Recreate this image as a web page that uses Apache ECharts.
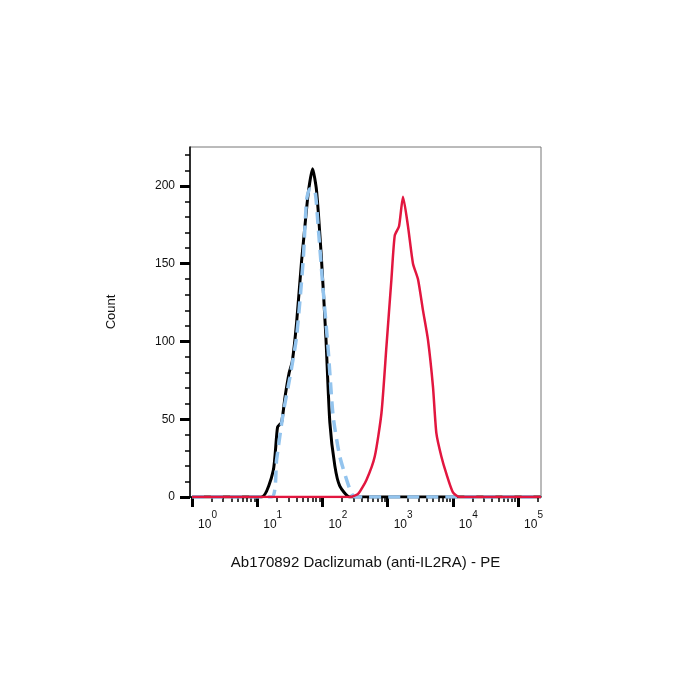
<!DOCTYPE html>
<html>
<head>
<meta charset="utf-8">
<script src="https://cdn.jsdelivr.net/npm/echarts@6/dist/echarts.min.js"></script>
<style>
    html, body { margin: 0; padding: 0; background: #fff; }
    #main { width: 700px; height: 700px; }
</style>
</head>
<body>
<div id="main"></div>
<script>
    // isotype / control (black)
    var blackX = [1, 11.7, 17.6, 20.5, 23.6, 26.6, 30.9, 34.4, 40.1, 47.9, 51.9, 60.4, 70.5, 81.2, 96.9, 112.8, 129.8, 154.9, 184.7, 262.8, 225000];
    var blackY = [0, 0, 17, 45, 48, 64, 80, 87, 112, 152, 167, 195, 211, 197, 152, 103, 48, 20, 7, 0, 0];
    // blank (blue dashed)
    var blueX = [1, 16.6, 19.8, 25.0, 31.7, 40.1, 50.6, 57.1, 64.1, 76.5, 85.9, 102.5, 122.3, 145.8, 184.7, 262.8, 313.4, 225000];
    var blueY = [0, 0, 24, 54, 77, 103, 152, 191, 198, 197, 174, 133, 95, 52, 26, 5, 0, 0];
    // Daclizumab PE (red)
    var redX = [1, 262.8, 352, 473, 634, 804, 959, 1143, 1285, 1495, 1721, 2052, 2449, 2921, 3483, 4155, 4956, 5588, 6666, 7951, 10035, 12706, 225000];
    var redY = [0, 0, 2, 11, 26, 54, 97, 140, 168, 174, 193, 174, 150, 140, 120, 101, 71, 41, 26, 15, 3, 0, 0];

    var xMajor = [1, 10, 100, 1000, 10000, 100000];
    var yMajor = [0, 50, 100, 150, 200];
    var yMinor = [10, 20, 30, 40, 60, 70, 80, 90, 110, 120, 130, 140, 160, 170, 180, 190, 210, 220];

    function pairs(xs, ys) {
        var out = [];
        for (var i = 0; i < xs.length; i++) out.push([xs[i], ys[i]]);
        return out;
    }
    var xMinor = [];
    xMajor.forEach(function (d) {
        for (var k = 2; k <= 9; k++) {
            if (d * k < 225000) xMinor.push(d * k);
        }
    });

    var chart = echarts.init(document.getElementById('main'));
    var font = 'Liberation Sans, Arial, sans-serif';
    var option = {
        backgroundColor: '#fff',
        animation: false,
        grid: {
            left: 190, right: 159, top: 147, bottom: 203,
            show: true, borderColor: '#777', borderWidth: 1
        },
        xAxis: [
            {
                type: 'log', min: 0.93, max: 225000,
                name: 'Ab170892 Daclizumab (anti-IL2RA) - PE',
                nameLocation: 'middle', nameGap: 58,
                nameTextStyle: { fontFamily: font, fontSize: 15, color: '#111' },
                axisLine: { lineStyle: { color: '#000', width: 1.5 } },
                axisTick: { customValues: xMajor, length: 10, lineStyle: { color: '#000', width: 3 } },
                axisLabel: {
                    customValues: xMajor, margin: 13, align: 'left', padding: [0, 0, 0, 6],
                    fontFamily: font, color: '#111',
                    formatter: function (v) {
                        return '{b|10}{s|' + Math.round(Math.log10(v)) + '}';
                    },
                    rich: {
                        b: { fontFamily: font, fontSize: 12, color: '#111', verticalAlign: 'bottom' },
                        s: { fontFamily: font, fontSize: 10, color: '#111', verticalAlign: 'bottom', padding: [0, 0, 11, 0] }
                    }
                },
                splitLine: { show: false }
            },
            {
                type: 'log', min: 0.93, max: 225000, position: 'bottom',
                axisLine: { show: false },
                axisTick: { customValues: xMinor, length: 5, lineStyle: { color: '#000', width: 1.5 } },
                axisLabel: { show: false },
                splitLine: { show: false }
            }
        ],
        yAxis: [
            {
                type: 'value', min: 0, max: 225,
                name: 'Count', nameLocation: 'middle', nameGap: 72, nameRotate: 90,
                nameTextStyle: { fontFamily: font, fontSize: 13, color: '#111', padding: [0, 0, 0, 20] },
                axisLine: { show: true, lineStyle: { color: '#000', width: 1.5 } },
                axisTick: { customValues: yMajor, length: 10, lineStyle: { color: '#000', width: 3 } },
                axisLabel: { customValues: yMajor, margin: 15, fontFamily: font, fontSize: 12, color: '#111' },
                splitLine: { show: false }
            },
            {
                type: 'value', min: 0, max: 225, position: 'left',
                axisLine: { show: false },
                axisTick: { customValues: yMinor, length: 5, lineStyle: { color: '#000', width: 1.5 } },
                axisLabel: { show: false },
                splitLine: { show: false }
            }
        ],
        series: [
            {
                type: 'line', name: 'control', data: pairs(blackX, blackY),
                showSymbol: false, smooth: 0.2,
                lineStyle: { color: '#000', width: 3 }
            },
            {
                type: 'line', name: 'blank', data: pairs(blueX, blueY),
                showSymbol: false, smooth: 0.2,
                lineStyle: { color: '#93c4ee', width: 3.5, type: [12, 7] }
            },
            {
                type: 'line', name: 'PE', data: pairs(redX, redY),
                showSymbol: false, smooth: 0.2,
                lineStyle: { color: '#e2163f', width: 2.5 }
            }
        ]
    };
    chart.setOption(option);
</script>
</body>
</html>
